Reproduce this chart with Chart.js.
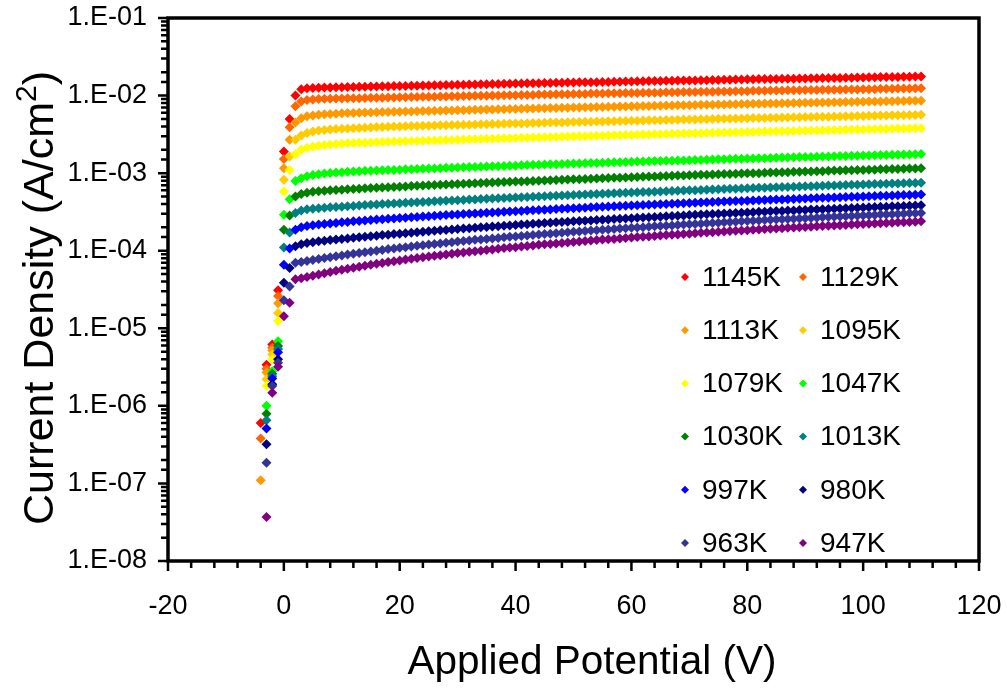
<!DOCTYPE html>
<html>
<head>
<meta charset="utf-8">
<script src="https://cdn.jsdelivr.net/npm/chart.js@4.4.1/dist/chart.umd.min.js"></script>
<style>
  html, body { margin: 0; padding: 0; background: #fff; }
  #wrap { width: 1007px; height: 689px; }
</style>
</head>
<body>
<div id="wrap"><canvas id="ivChart" width="1007" height="689"></canvas></div>
<script>
"use strict";

// applied potential (V), one reading per volt
const volts = [
  -4, -3, -2, -1, 0, 1, 2, 3, 4, 5,
  6, 7, 8, 9, 10, 11, 12, 13, 14, 15,
  16, 17, 18, 19, 20, 21, 22, 23, 24, 25,
  26, 27, 28, 29, 30, 31, 32, 33, 34, 35,
  36, 37, 38, 39, 40, 41, 42, 43, 44, 45,
  46, 47, 48, 49, 50, 51, 52, 53, 54, 55,
  56, 57, 58, 59, 60, 61, 62, 63, 64, 65,
  66, 67, 68, 69, 70, 71, 72, 73, 74, 75,
  76, 77, 78, 79, 80, 81, 82, 83, 84, 85,
  86, 87, 88, 89, 90, 91, 92, 93, 94, 95,
  96, 97, 98, 99, 100, 101, 102, 103, 104, 105,
  106, 107, 108, 109, 110
];

const temps = ['1145K', '1129K', '1113K', '1095K', '1079K', '1047K',
               '1030K', '1013K', '997K', '980K', '963K', '947K'];

const colors = ['#ff0000', '#ff6600', '#ff9900', '#ffcc00', '#ffff00', '#00ff00',
                '#008000', '#008080', '#0000ff', '#000080', '#333399', '#800080'];

// current density (A/cm2), same index as volts; null = no reading
const j1145 = [
  6.0e-7, 3.4e-6, 6.2e-6, 3.1e-5, 1.9e-3, 5.0e-3, 1.0e-2, 1.21e-2, 1.24e-2, 1.25e-2,
  1.26e-2, 1.27e-2, 1.27e-2, 1.28e-2, 1.28e-2, 1.29e-2, 1.29e-2, 1.30e-2, 1.30e-2, 1.31e-2,
  1.31e-2, 1.32e-2, 1.32e-2, 1.33e-2, 1.33e-2, 1.33e-2, 1.34e-2, 1.34e-2, 1.35e-2, 1.35e-2,
  1.36e-2, 1.36e-2, 1.37e-2, 1.37e-2, 1.38e-2, 1.38e-2, 1.39e-2, 1.39e-2, 1.40e-2, 1.40e-2,
  1.41e-2, 1.41e-2, 1.42e-2, 1.42e-2, 1.43e-2, 1.43e-2, 1.44e-2, 1.44e-2, 1.44e-2, 1.45e-2,
  1.45e-2, 1.46e-2, 1.46e-2, 1.47e-2, 1.47e-2, 1.48e-2, 1.48e-2, 1.49e-2, 1.49e-2, 1.50e-2,
  1.50e-2, 1.51e-2, 1.51e-2, 1.52e-2, 1.52e-2, 1.53e-2, 1.53e-2, 1.54e-2, 1.54e-2, 1.54e-2,
  1.55e-2, 1.55e-2, 1.56e-2, 1.56e-2, 1.57e-2, 1.57e-2, 1.58e-2, 1.58e-2, 1.59e-2, 1.59e-2,
  1.60e-2, 1.60e-2, 1.61e-2, 1.61e-2, 1.62e-2, 1.62e-2, 1.63e-2, 1.63e-2, 1.64e-2, 1.64e-2,
  1.65e-2, 1.65e-2, 1.65e-2, 1.66e-2, 1.66e-2, 1.67e-2, 1.67e-2, 1.68e-2, 1.68e-2, 1.69e-2,
  1.69e-2, 1.70e-2, 1.70e-2, 1.71e-2, 1.71e-2, 1.72e-2, 1.72e-2, 1.73e-2, 1.73e-2, 1.74e-2,
  1.74e-2, 1.75e-2, 1.75e-2, 1.76e-2, 1.76e-2
];

const j1129 = [
  3.8e-7, 3.0e-6, 5.6e-6, 2.6e-5, 1.52e-3, 3.9e-3, 7.3e-3, 8.4e-3, 8.75e-3, 8.90e-3,
  9.00e-3, 9.07e-3, 9.11e-3, 9.15e-3, 9.18e-3, 9.21e-3, 9.24e-3, 9.27e-3, 9.31e-3, 9.34e-3,
  9.37e-3, 9.40e-3, 9.44e-3, 9.47e-3, 9.50e-3, 9.53e-3, 9.56e-3, 9.60e-3, 9.63e-3, 9.66e-3,
  9.69e-3, 9.73e-3, 9.76e-3, 9.79e-3, 9.82e-3, 9.85e-3, 9.89e-3, 9.92e-3, 9.95e-3, 9.98e-3,
  1.00e-2, 1.00e-2, 1.01e-2, 1.01e-2, 1.01e-2, 1.02e-2, 1.02e-2, 1.02e-2, 1.03e-2, 1.03e-2,
  1.03e-2, 1.04e-2, 1.04e-2, 1.04e-2, 1.05e-2, 1.05e-2, 1.05e-2, 1.06e-2, 1.06e-2, 1.06e-2,
  1.07e-2, 1.07e-2, 1.07e-2, 1.08e-2, 1.08e-2, 1.08e-2, 1.09e-2, 1.09e-2, 1.09e-2, 1.09e-2,
  1.10e-2, 1.10e-2, 1.10e-2, 1.11e-2, 1.11e-2, 1.11e-2, 1.12e-2, 1.12e-2, 1.12e-2, 1.13e-2,
  1.13e-2, 1.13e-2, 1.14e-2, 1.14e-2, 1.14e-2, 1.15e-2, 1.15e-2, 1.15e-2, 1.16e-2, 1.16e-2,
  1.16e-2, 1.17e-2, 1.17e-2, 1.17e-2, 1.18e-2, 1.18e-2, 1.18e-2, 1.19e-2, 1.19e-2, 1.19e-2,
  1.19e-2, 1.20e-2, 1.20e-2, 1.20e-2, 1.21e-2, 1.21e-2, 1.21e-2, 1.22e-2, 1.22e-2, 1.22e-2,
  1.23e-2, 1.23e-2, 1.23e-2, 1.24e-2, 1.24e-2
];

const j1113 = [
  1.1e-7, 2.7e-6, 5.2e-6, 2.1e-5, 1.16e-3, 2.7e-3, 4.5e-3, 5.1e-3, 5.40e-3, 5.55e-3,
  5.66e-3, 5.74e-3, 5.80e-3, 5.85e-3, 5.90e-3, 5.94e-3, 5.98e-3, 6.01e-3, 6.04e-3, 6.07e-3,
  6.09e-3, 6.12e-3, 6.15e-3, 6.17e-3, 6.20e-3, 6.23e-3, 6.25e-3, 6.28e-3, 6.31e-3, 6.33e-3,
  6.36e-3, 6.39e-3, 6.41e-3, 6.44e-3, 6.47e-3, 6.49e-3, 6.52e-3, 6.55e-3, 6.57e-3, 6.60e-3,
  6.63e-3, 6.65e-3, 6.68e-3, 6.71e-3, 6.73e-3, 6.76e-3, 6.79e-3, 6.81e-3, 6.84e-3, 6.87e-3,
  6.89e-3, 6.92e-3, 6.95e-3, 6.97e-3, 7.00e-3, 7.03e-3, 7.05e-3, 7.08e-3, 7.11e-3, 7.13e-3,
  7.16e-3, 7.19e-3, 7.21e-3, 7.24e-3, 7.27e-3, 7.29e-3, 7.32e-3, 7.35e-3, 7.37e-3, 7.40e-3,
  7.43e-3, 7.45e-3, 7.48e-3, 7.51e-3, 7.53e-3, 7.56e-3, 7.59e-3, 7.61e-3, 7.64e-3, 7.67e-3,
  7.69e-3, 7.72e-3, 7.75e-3, 7.77e-3, 7.80e-3, 7.83e-3, 7.85e-3, 7.88e-3, 7.91e-3, 7.93e-3,
  7.96e-3, 7.99e-3, 8.01e-3, 8.04e-3, 8.07e-3, 8.09e-3, 8.12e-3, 8.15e-3, 8.17e-3, 8.20e-3,
  8.23e-3, 8.25e-3, 8.28e-3, 8.31e-3, 8.33e-3, 8.36e-3, 8.39e-3, 8.41e-3, 8.44e-3, 8.47e-3,
  8.50e-3, 8.52e-3, 8.55e-3, 8.58e-3, 8.60e-3
];

const j1095 = [
  null, 2.2e-6, 4.6e-6, 1.58e-5, 8.2e-4, 1.64e-3, 2.7e-3, 3.05e-3, 3.30e-3, 3.44e-3,
  3.54e-3, 3.61e-3, 3.66e-3, 3.70e-3, 3.74e-3, 3.77e-3, 3.80e-3, 3.83e-3, 3.86e-3, 3.89e-3,
  3.92e-3, 3.94e-3, 3.96e-3, 3.98e-3, 4.00e-3, 4.02e-3, 4.04e-3, 4.05e-3, 4.07e-3, 4.09e-3,
  4.11e-3, 4.13e-3, 4.15e-3, 4.16e-3, 4.18e-3, 4.20e-3, 4.22e-3, 4.24e-3, 4.26e-3, 4.27e-3,
  4.29e-3, 4.31e-3, 4.33e-3, 4.35e-3, 4.37e-3, 4.38e-3, 4.40e-3, 4.42e-3, 4.44e-3, 4.46e-3,
  4.48e-3, 4.49e-3, 4.51e-3, 4.53e-3, 4.55e-3, 4.57e-3, 4.59e-3, 4.60e-3, 4.62e-3, 4.64e-3,
  4.66e-3, 4.68e-3, 4.70e-3, 4.71e-3, 4.73e-3, 4.75e-3, 4.77e-3, 4.79e-3, 4.81e-3, 4.82e-3,
  4.84e-3, 4.86e-3, 4.88e-3, 4.90e-3, 4.92e-3, 4.93e-3, 4.95e-3, 4.97e-3, 4.99e-3, 5.01e-3,
  5.02e-3, 5.04e-3, 5.06e-3, 5.08e-3, 5.10e-3, 5.12e-3, 5.13e-3, 5.15e-3, 5.17e-3, 5.19e-3,
  5.21e-3, 5.23e-3, 5.24e-3, 5.26e-3, 5.28e-3, 5.30e-3, 5.32e-3, 5.34e-3, 5.35e-3, 5.37e-3,
  5.39e-3, 5.41e-3, 5.43e-3, 5.45e-3, 5.46e-3, 5.48e-3, 5.50e-3, 5.52e-3, 5.54e-3, 5.56e-3,
  5.57e-3, 5.59e-3, 5.61e-3, 5.63e-3, 5.65e-3
];

const j1079 = [
  null, 1.8e-6, 4.0e-6, 1.24e-5, 5.8e-4, 1.10e-3, 1.75e-3, 2.00e-3, 2.12e-3, 2.20e-3,
  2.26e-3, 2.30e-3, 2.34e-3, 2.37e-3, 2.40e-3, 2.42e-3, 2.44e-3, 2.46e-3, 2.47e-3, 2.49e-3,
  2.50e-3, 2.52e-3, 2.53e-3, 2.55e-3, 2.56e-3, 2.57e-3, 2.59e-3, 2.60e-3, 2.62e-3, 2.63e-3,
  2.64e-3, 2.66e-3, 2.67e-3, 2.68e-3, 2.70e-3, 2.71e-3, 2.73e-3, 2.74e-3, 2.75e-3, 2.77e-3,
  2.78e-3, 2.79e-3, 2.81e-3, 2.82e-3, 2.84e-3, 2.85e-3, 2.86e-3, 2.88e-3, 2.89e-3, 2.91e-3,
  2.92e-3, 2.93e-3, 2.95e-3, 2.96e-3, 2.97e-3, 2.99e-3, 3.00e-3, 3.02e-3, 3.03e-3, 3.04e-3,
  3.06e-3, 3.07e-3, 3.08e-3, 3.10e-3, 3.11e-3, 3.13e-3, 3.14e-3, 3.15e-3, 3.17e-3, 3.18e-3,
  3.19e-3, 3.21e-3, 3.22e-3, 3.24e-3, 3.25e-3, 3.26e-3, 3.28e-3, 3.29e-3, 3.31e-3, 3.32e-3,
  3.33e-3, 3.35e-3, 3.36e-3, 3.37e-3, 3.39e-3, 3.40e-3, 3.42e-3, 3.43e-3, 3.44e-3, 3.46e-3,
  3.47e-3, 3.48e-3, 3.50e-3, 3.51e-3, 3.53e-3, 3.54e-3, 3.55e-3, 3.57e-3, 3.58e-3, 3.60e-3,
  3.61e-3, 3.62e-3, 3.64e-3, 3.65e-3, 3.66e-3, 3.68e-3, 3.69e-3, 3.71e-3, 3.72e-3, 3.73e-3,
  3.75e-3, 3.76e-3, 3.77e-3, 3.79e-3, 3.80e-3
];

const j1047 = [
  null, 1.0e-6, 2.8e-6, 6.8e-6, 2.9e-4, 4.6e-4, 7.9e-4, 8.6e-4, 9.10e-4, 9.45e-4,
  9.70e-4, 9.90e-4, 1.005e-3, 1.02e-3, 1.03e-3, 1.04e-3, 1.05e-3, 1.06e-3, 1.07e-3, 1.07e-3,
  1.08e-3, 1.09e-3, 1.10e-3, 1.10e-3, 1.11e-3, 1.12e-3, 1.12e-3, 1.13e-3, 1.14e-3, 1.15e-3,
  1.15e-3, 1.16e-3, 1.17e-3, 1.17e-3, 1.18e-3, 1.19e-3, 1.20e-3, 1.20e-3, 1.21e-3, 1.22e-3,
  1.23e-3, 1.23e-3, 1.24e-3, 1.25e-3, 1.25e-3, 1.26e-3, 1.27e-3, 1.28e-3, 1.28e-3, 1.29e-3,
  1.30e-3, 1.30e-3, 1.31e-3, 1.32e-3, 1.33e-3, 1.33e-3, 1.34e-3, 1.35e-3, 1.35e-3, 1.36e-3,
  1.37e-3, 1.38e-3, 1.38e-3, 1.39e-3, 1.40e-3, 1.41e-3, 1.41e-3, 1.42e-3, 1.43e-3, 1.43e-3,
  1.44e-3, 1.45e-3, 1.46e-3, 1.46e-3, 1.47e-3, 1.48e-3, 1.48e-3, 1.49e-3, 1.50e-3, 1.51e-3,
  1.51e-3, 1.52e-3, 1.53e-3, 1.53e-3, 1.54e-3, 1.55e-3, 1.56e-3, 1.56e-3, 1.57e-3, 1.58e-3,
  1.59e-3, 1.59e-3, 1.60e-3, 1.61e-3, 1.61e-3, 1.62e-3, 1.63e-3, 1.64e-3, 1.64e-3, 1.65e-3,
  1.66e-3, 1.66e-3, 1.67e-3, 1.68e-3, 1.69e-3, 1.69e-3, 1.70e-3, 1.71e-3, 1.71e-3, 1.72e-3,
  1.73e-3, 1.74e-3, 1.74e-3, 1.75e-3, 1.76e-3
];

const j1030 = [
  null, 7.9e-7, 2.6e-6, 5.9e-6, 1.87e-4, 2.85e-4, 5.0e-4, 5.40e-4, 5.60e-4, 5.75e-4,
  5.85e-4, 5.93e-4, 6.00e-4, 6.07e-4, 6.13e-4, 6.19e-4, 6.25e-4, 6.31e-4, 6.37e-4, 6.43e-4,
  6.48e-4, 6.54e-4, 6.59e-4, 6.65e-4, 6.70e-4, 6.75e-4, 6.81e-4, 6.86e-4, 6.92e-4, 6.97e-4,
  7.02e-4, 7.08e-4, 7.13e-4, 7.19e-4, 7.24e-4, 7.29e-4, 7.35e-4, 7.40e-4, 7.46e-4, 7.51e-4,
  7.56e-4, 7.62e-4, 7.67e-4, 7.73e-4, 7.78e-4, 7.83e-4, 7.89e-4, 7.94e-4, 8.00e-4, 8.05e-4,
  8.10e-4, 8.16e-4, 8.21e-4, 8.27e-4, 8.32e-4, 8.37e-4, 8.43e-4, 8.48e-4, 8.54e-4, 8.59e-4,
  8.64e-4, 8.70e-4, 8.75e-4, 8.81e-4, 8.86e-4, 8.91e-4, 8.97e-4, 9.02e-4, 9.08e-4, 9.13e-4,
  9.18e-4, 9.24e-4, 9.29e-4, 9.35e-4, 9.40e-4, 9.45e-4, 9.51e-4, 9.56e-4, 9.62e-4, 9.67e-4,
  9.72e-4, 9.78e-4, 9.83e-4, 9.89e-4, 9.94e-4, 9.99e-4, 1.00e-3, 1.01e-3, 1.02e-3, 1.02e-3,
  1.03e-3, 1.03e-3, 1.04e-3, 1.04e-3, 1.05e-3, 1.05e-3, 1.06e-3, 1.06e-3, 1.07e-3, 1.08e-3,
  1.08e-3, 1.09e-3, 1.09e-3, 1.10e-3, 1.10e-3, 1.11e-3, 1.11e-3, 1.12e-3, 1.12e-3, 1.13e-3,
  1.13e-3, 1.14e-3, 1.15e-3, 1.15e-3, 1.16e-3
];

const j1013 = [
  null, 6.5e-7, 2.4e-6, 5.4e-6, 1.10e-4, 1.72e-4, 3.07e-4, 3.30e-4, 3.42e-4, 3.48e-4,
  3.53e-4, 3.58e-4, 3.62e-4, 3.66e-4, 3.70e-4, 3.74e-4, 3.78e-4, 3.82e-4, 3.87e-4, 3.91e-4,
  3.95e-4, 3.99e-4, 4.02e-4, 4.06e-4, 4.10e-4, 4.14e-4, 4.18e-4, 4.21e-4, 4.25e-4, 4.29e-4,
  4.33e-4, 4.37e-4, 4.40e-4, 4.44e-4, 4.48e-4, 4.52e-4, 4.56e-4, 4.59e-4, 4.63e-4, 4.67e-4,
  4.71e-4, 4.75e-4, 4.78e-4, 4.82e-4, 4.86e-4, 4.90e-4, 4.94e-4, 4.97e-4, 5.01e-4, 5.05e-4,
  5.09e-4, 5.13e-4, 5.16e-4, 5.20e-4, 5.24e-4, 5.28e-4, 5.32e-4, 5.35e-4, 5.39e-4, 5.43e-4,
  5.47e-4, 5.51e-4, 5.54e-4, 5.58e-4, 5.62e-4, 5.66e-4, 5.70e-4, 5.73e-4, 5.77e-4, 5.81e-4,
  5.85e-4, 5.89e-4, 5.92e-4, 5.96e-4, 6.00e-4, 6.04e-4, 6.08e-4, 6.11e-4, 6.15e-4, 6.19e-4,
  6.23e-4, 6.27e-4, 6.30e-4, 6.34e-4, 6.38e-4, 6.42e-4, 6.46e-4, 6.49e-4, 6.53e-4, 6.57e-4,
  6.61e-4, 6.65e-4, 6.68e-4, 6.72e-4, 6.76e-4, 6.80e-4, 6.84e-4, 6.87e-4, 6.91e-4, 6.95e-4,
  6.99e-4, 7.03e-4, 7.06e-4, 7.10e-4, 7.14e-4, 7.18e-4, 7.22e-4, 7.25e-4, 7.29e-4, 7.33e-4,
  7.37e-4, 7.41e-4, 7.44e-4, 7.48e-4, 7.52e-4
];

const j997 = [
  null, 5.1e-7, 2.25e-6, 4.9e-6, 6.6e-5, 1.07e-4, 1.87e-4, 2.00e-4, 2.08e-4, 2.13e-4,
  2.17e-4, 2.21e-4, 2.25e-4, 2.28e-4, 2.32e-4, 2.35e-4, 2.39e-4, 2.42e-4, 2.46e-4, 2.49e-4,
  2.52e-4, 2.55e-4, 2.58e-4, 2.61e-4, 2.64e-4, 2.67e-4, 2.70e-4, 2.73e-4, 2.76e-4, 2.79e-4,
  2.82e-4, 2.85e-4, 2.88e-4, 2.91e-4, 2.94e-4, 2.97e-4, 3.00e-4, 3.02e-4, 3.05e-4, 3.08e-4,
  3.11e-4, 3.14e-4, 3.17e-4, 3.20e-4, 3.23e-4, 3.26e-4, 3.29e-4, 3.32e-4, 3.35e-4, 3.38e-4,
  3.41e-4, 3.44e-4, 3.47e-4, 3.50e-4, 3.53e-4, 3.56e-4, 3.59e-4, 3.62e-4, 3.65e-4, 3.68e-4,
  3.71e-4, 3.74e-4, 3.76e-4, 3.79e-4, 3.82e-4, 3.85e-4, 3.88e-4, 3.91e-4, 3.94e-4, 3.97e-4,
  4.00e-4, 4.03e-4, 4.06e-4, 4.09e-4, 4.12e-4, 4.15e-4, 4.18e-4, 4.21e-4, 4.24e-4, 4.27e-4,
  4.30e-4, 4.33e-4, 4.36e-4, 4.39e-4, 4.42e-4, 4.45e-4, 4.48e-4, 4.50e-4, 4.53e-4, 4.56e-4,
  4.59e-4, 4.62e-4, 4.65e-4, 4.68e-4, 4.71e-4, 4.74e-4, 4.77e-4, 4.80e-4, 4.83e-4, 4.86e-4,
  4.89e-4, 4.92e-4, 4.95e-4, 4.98e-4, 5.01e-4, 5.04e-4, 5.07e-4, 5.10e-4, 5.13e-4, 5.16e-4,
  5.19e-4, 5.22e-4, 5.24e-4, 5.27e-4, 5.30e-4
];

const j980 = [
  null, 3.2e-7, 1.9e-6, 4.0e-6, 3.85e-5, 6.0e-5, 1.14e-4, 1.21e-4, 1.26e-4, 1.29e-4,
  1.32e-4, 1.34e-4, 1.37e-4, 1.39e-4, 1.42e-4, 1.44e-4, 1.47e-4, 1.49e-4, 1.51e-4, 1.54e-4,
  1.56e-4, 1.59e-4, 1.61e-4, 1.64e-4, 1.66e-4, 1.68e-4, 1.71e-4, 1.73e-4, 1.76e-4, 1.78e-4,
  1.81e-4, 1.83e-4, 1.85e-4, 1.88e-4, 1.90e-4, 1.93e-4, 1.95e-4, 1.98e-4, 2.00e-4, 2.02e-4,
  2.05e-4, 2.07e-4, 2.10e-4, 2.12e-4, 2.15e-4, 2.17e-4, 2.19e-4, 2.22e-4, 2.24e-4, 2.27e-4,
  2.29e-4, 2.32e-4, 2.34e-4, 2.36e-4, 2.39e-4, 2.41e-4, 2.44e-4, 2.46e-4, 2.49e-4, 2.51e-4,
  2.53e-4, 2.56e-4, 2.58e-4, 2.61e-4, 2.63e-4, 2.66e-4, 2.68e-4, 2.70e-4, 2.73e-4, 2.75e-4,
  2.78e-4, 2.80e-4, 2.83e-4, 2.85e-4, 2.88e-4, 2.90e-4, 2.92e-4, 2.95e-4, 2.97e-4, 3.00e-4,
  3.02e-4, 3.05e-4, 3.07e-4, 3.09e-4, 3.12e-4, 3.14e-4, 3.17e-4, 3.19e-4, 3.22e-4, 3.24e-4,
  3.26e-4, 3.29e-4, 3.31e-4, 3.34e-4, 3.36e-4, 3.39e-4, 3.41e-4, 3.43e-4, 3.46e-4, 3.48e-4,
  3.51e-4, 3.53e-4, 3.56e-4, 3.58e-4, 3.60e-4, 3.63e-4, 3.65e-4, 3.68e-4, 3.70e-4, 3.73e-4,
  3.75e-4, 3.77e-4, 3.80e-4, 3.82e-4, 3.85e-4
];

const j963 = [
  null, 1.85e-7, 1.8e-6, 3.6e-6, 2.3e-5, 3.45e-5, 7.0e-5, 7.16e-5, 7.38e-5, 7.60e-5,
  7.82e-5, 8.04e-5, 8.26e-5, 8.48e-5, 8.70e-5, 8.92e-5, 9.14e-5, 9.36e-5, 9.58e-5, 9.80e-5,
  1.00e-4, 1.02e-4, 1.05e-4, 1.07e-4, 1.09e-4, 1.11e-4, 1.13e-4, 1.16e-4, 1.18e-4, 1.20e-4,
  1.22e-4, 1.24e-4, 1.27e-4, 1.29e-4, 1.31e-4, 1.33e-4, 1.35e-4, 1.38e-4, 1.40e-4, 1.42e-4,
  1.44e-4, 1.46e-4, 1.49e-4, 1.51e-4, 1.53e-4, 1.55e-4, 1.57e-4, 1.60e-4, 1.62e-4, 1.64e-4,
  1.66e-4, 1.68e-4, 1.71e-4, 1.73e-4, 1.75e-4, 1.77e-4, 1.79e-4, 1.82e-4, 1.84e-4, 1.86e-4,
  1.88e-4, 1.90e-4, 1.93e-4, 1.95e-4, 1.97e-4, 1.99e-4, 2.01e-4, 2.04e-4, 2.06e-4, 2.08e-4,
  2.10e-4, 2.12e-4, 2.15e-4, 2.17e-4, 2.19e-4, 2.21e-4, 2.23e-4, 2.26e-4, 2.28e-4, 2.30e-4,
  2.32e-4, 2.34e-4, 2.37e-4, 2.39e-4, 2.41e-4, 2.43e-4, 2.45e-4, 2.48e-4, 2.50e-4, 2.52e-4,
  2.54e-4, 2.56e-4, 2.59e-4, 2.61e-4, 2.63e-4, 2.65e-4, 2.67e-4, 2.70e-4, 2.72e-4, 2.74e-4,
  2.76e-4, 2.78e-4, 2.81e-4, 2.83e-4, 2.85e-4, 2.87e-4, 2.89e-4, 2.92e-4, 2.94e-4, 2.96e-4,
  2.98e-4, 3.00e-4, 3.03e-4, 3.05e-4, 3.07e-4
];

const j947 = [
  null, 3.7e-8, 1.48e-6, 3.2e-6, 1.43e-5, 2.14e-5, 4.3e-5, 4.41e-5, 4.59e-5, 4.77e-5,
  4.95e-5, 5.13e-5, 5.32e-5, 5.50e-5, 5.68e-5, 5.86e-5, 6.04e-5, 6.23e-5, 6.41e-5, 6.59e-5,
  6.77e-5, 6.95e-5, 7.14e-5, 7.32e-5, 7.50e-5, 7.68e-5, 7.86e-5, 8.05e-5, 8.23e-5, 8.41e-5,
  8.59e-5, 8.77e-5, 8.96e-5, 9.14e-5, 9.32e-5, 9.50e-5, 9.68e-5, 9.87e-5, 1.00e-4, 1.02e-4,
  1.04e-4, 1.06e-4, 1.08e-4, 1.10e-4, 1.11e-4, 1.13e-4, 1.15e-4, 1.17e-4, 1.19e-4, 1.21e-4,
  1.22e-4, 1.24e-4, 1.26e-4, 1.28e-4, 1.30e-4, 1.31e-4, 1.33e-4, 1.35e-4, 1.37e-4, 1.39e-4,
  1.41e-4, 1.42e-4, 1.44e-4, 1.46e-4, 1.48e-4, 1.50e-4, 1.51e-4, 1.53e-4, 1.55e-4, 1.57e-4,
  1.59e-4, 1.61e-4, 1.62e-4, 1.64e-4, 1.66e-4, 1.68e-4, 1.70e-4, 1.72e-4, 1.73e-4, 1.75e-4,
  1.77e-4, 1.79e-4, 1.81e-4, 1.82e-4, 1.84e-4, 1.86e-4, 1.88e-4, 1.90e-4, 1.92e-4, 1.93e-4,
  1.95e-4, 1.97e-4, 1.99e-4, 2.01e-4, 2.02e-4, 2.04e-4, 2.06e-4, 2.08e-4, 2.10e-4, 2.12e-4,
  2.13e-4, 2.15e-4, 2.17e-4, 2.19e-4, 2.21e-4, 2.22e-4, 2.24e-4, 2.26e-4, 2.28e-4, 2.30e-4,
  2.32e-4, 2.33e-4, 2.35e-4, 2.37e-4, 2.39e-4
];

const series = [j1145, j1129, j1113, j1095, j1079, j1047,
                j1030, j1013, j997, j980, j963, j947];

const FONT = "'Liberation Sans', Arial, sans-serif";
Chart.defaults.font.family = FONT;
Chart.defaults.color = '#000';

function pointsOf(values) {
  const pts = [];
  values.forEach(function (y, i) {
    if (y !== null) pts.push({ x: volts[i], y: y });
  });
  return pts;
}

// "1.E-03" style labels, only on whole decades
function decadeLabel(v) {
  const lg = Math.log10(v);
  const e = Math.round(lg);
  if (Math.abs(lg - e) > 1e-6) return '';
  return '1.E' + (e < 0 ? '-' : '+') + String(Math.abs(e)).padStart(2, '0');
}

function diamond(ctx, x, y, r) {
  ctx.beginPath();
  ctx.moveTo(x - r, y);
  ctx.lineTo(x, y - r);
  ctx.lineTo(x + r, y);
  ctx.lineTo(x, y + r);
  ctx.closePath();
  ctx.fill();
}

// frame, tick marks, axis titles and the two-column key
const decorations = {
  id: 'decorations',
  afterDraw(chart) {
    const ctx = chart.ctx;
    const a = chart.chartArea;
    const xs = chart.scales.x;
    const ys = chart.scales.y;
    ctx.save();

    ctx.strokeStyle = '#000';
    ctx.lineWidth = 3.5;
    ctx.strokeRect(a.left, a.top, a.right - a.left, a.bottom - a.top);

    ctx.lineWidth = 2.5;
    ctx.beginPath();
    ys.ticks.forEach(function (t) {
      const py = ys.getPixelForValue(t.value);
      const len = decadeLabel(t.value) ? 10 : 7;
      ctx.moveTo(a.left, py);
      ctx.lineTo(a.left - len, py);
    });
    xs.ticks.forEach(function (t) {
      const px = xs.getPixelForValue(t.value);
      const len = t.value % 20 === 0 ? 10 : 7;
      ctx.moveTo(px, a.bottom);
      ctx.lineTo(px, a.bottom + len);
    });
    ctx.stroke();

    ctx.fillStyle = '#000';
    ctx.textAlign = 'center';
    ctx.textBaseline = 'alphabetic';
    ctx.font = '40.5px ' + FONT;
    ctx.fillText('Applied Potential (V)', 592, 674);

    // rotated title with a raised "2"
    ctx.save();
    ctx.translate(53, 298);
    ctx.rotate(-Math.PI / 2);
    ctx.textAlign = 'left';
    const head = 'Current Density (A/cm';
    ctx.font = '43px ' + FONT;
    const wHead = ctx.measureText(head).width;
    const wClose = ctx.measureText(')').width;
    ctx.font = '30px ' + FONT;
    const wSup = ctx.measureText('2').width;
    let cx = -(wHead + wSup + wClose) / 2;
    ctx.font = '43px ' + FONT;
    ctx.fillText(head, cx, 0);
    cx += wHead;
    ctx.font = '30px ' + FONT;
    ctx.fillText('2', cx, -17);
    cx += wSup;
    ctx.font = '43px ' + FONT;
    ctx.fillText(')', cx, 0);
    ctx.restore();

    const cols = [685, 803];
    const rowTop = 277;
    const rowGap = 53.2;
    ctx.font = '28px ' + FONT;
    ctx.textAlign = 'left';
    ctx.textBaseline = 'middle';
    chart.data.datasets.forEach(function (ds, i) {
      const mx = cols[i % 2];
      const my = rowTop + Math.floor(i / 2) * rowGap;
      ctx.fillStyle = ds.backgroundColor;
      diamond(ctx, mx, my, 4);
      ctx.fillStyle = '#000';
      ctx.fillText(ds.label, mx + 17, my + 1);
    });

    ctx.restore();
  }
};

new Chart(document.getElementById('ivChart'), {
  type: 'scatter',
  data: {
    datasets: series.map(function (vals, i) {
      return {
        label: temps[i],
        data: pointsOf(vals),
        backgroundColor: colors[i],
        borderColor: colors[i],
        pointStyle: 'rectRot',
        pointRadius: 5,
        pointBorderWidth: 0,
        order: series.length - i
      };
    })
  },
  plugins: [decorations],
  options: {
    responsive: false,
    animation: false,
    events: [],
    layout: { padding: { top: 18, right: 28, left: 0, bottom: 0 } },
    plugins: {
      legend: { display: false },
      tooltip: { enabled: false }
    },
    scales: {
      x: {
        type: 'linear',
        min: -20,
        max: 120,
        afterFit(s) { s.height = 128; },
        grid: { display: false, drawTicks: true, tickLength: 29 },
        border: { display: false },
        ticks: {
          stepSize: 4,
          autoSkip: false,
          maxRotation: 0,
          padding: 0,
          font: { size: 27 },
          callback: function (v) { return v % 20 === 0 ? String(v) : ''; }
        }
      },
      y: {
        type: 'logarithmic',
        min: 1e-8,
        max: 1e-1,
        afterFit(s) { s.width = 168; },
        grid: { display: false, drawTicks: true, tickLength: 21 },
        border: { display: false },
        ticks: {
          autoSkip: false,
          padding: 0,
          font: { size: 27 },
          callback: function (v) { return decadeLabel(v); }
        }
      }
    }
  }
});
</script>
</body>
</html>
